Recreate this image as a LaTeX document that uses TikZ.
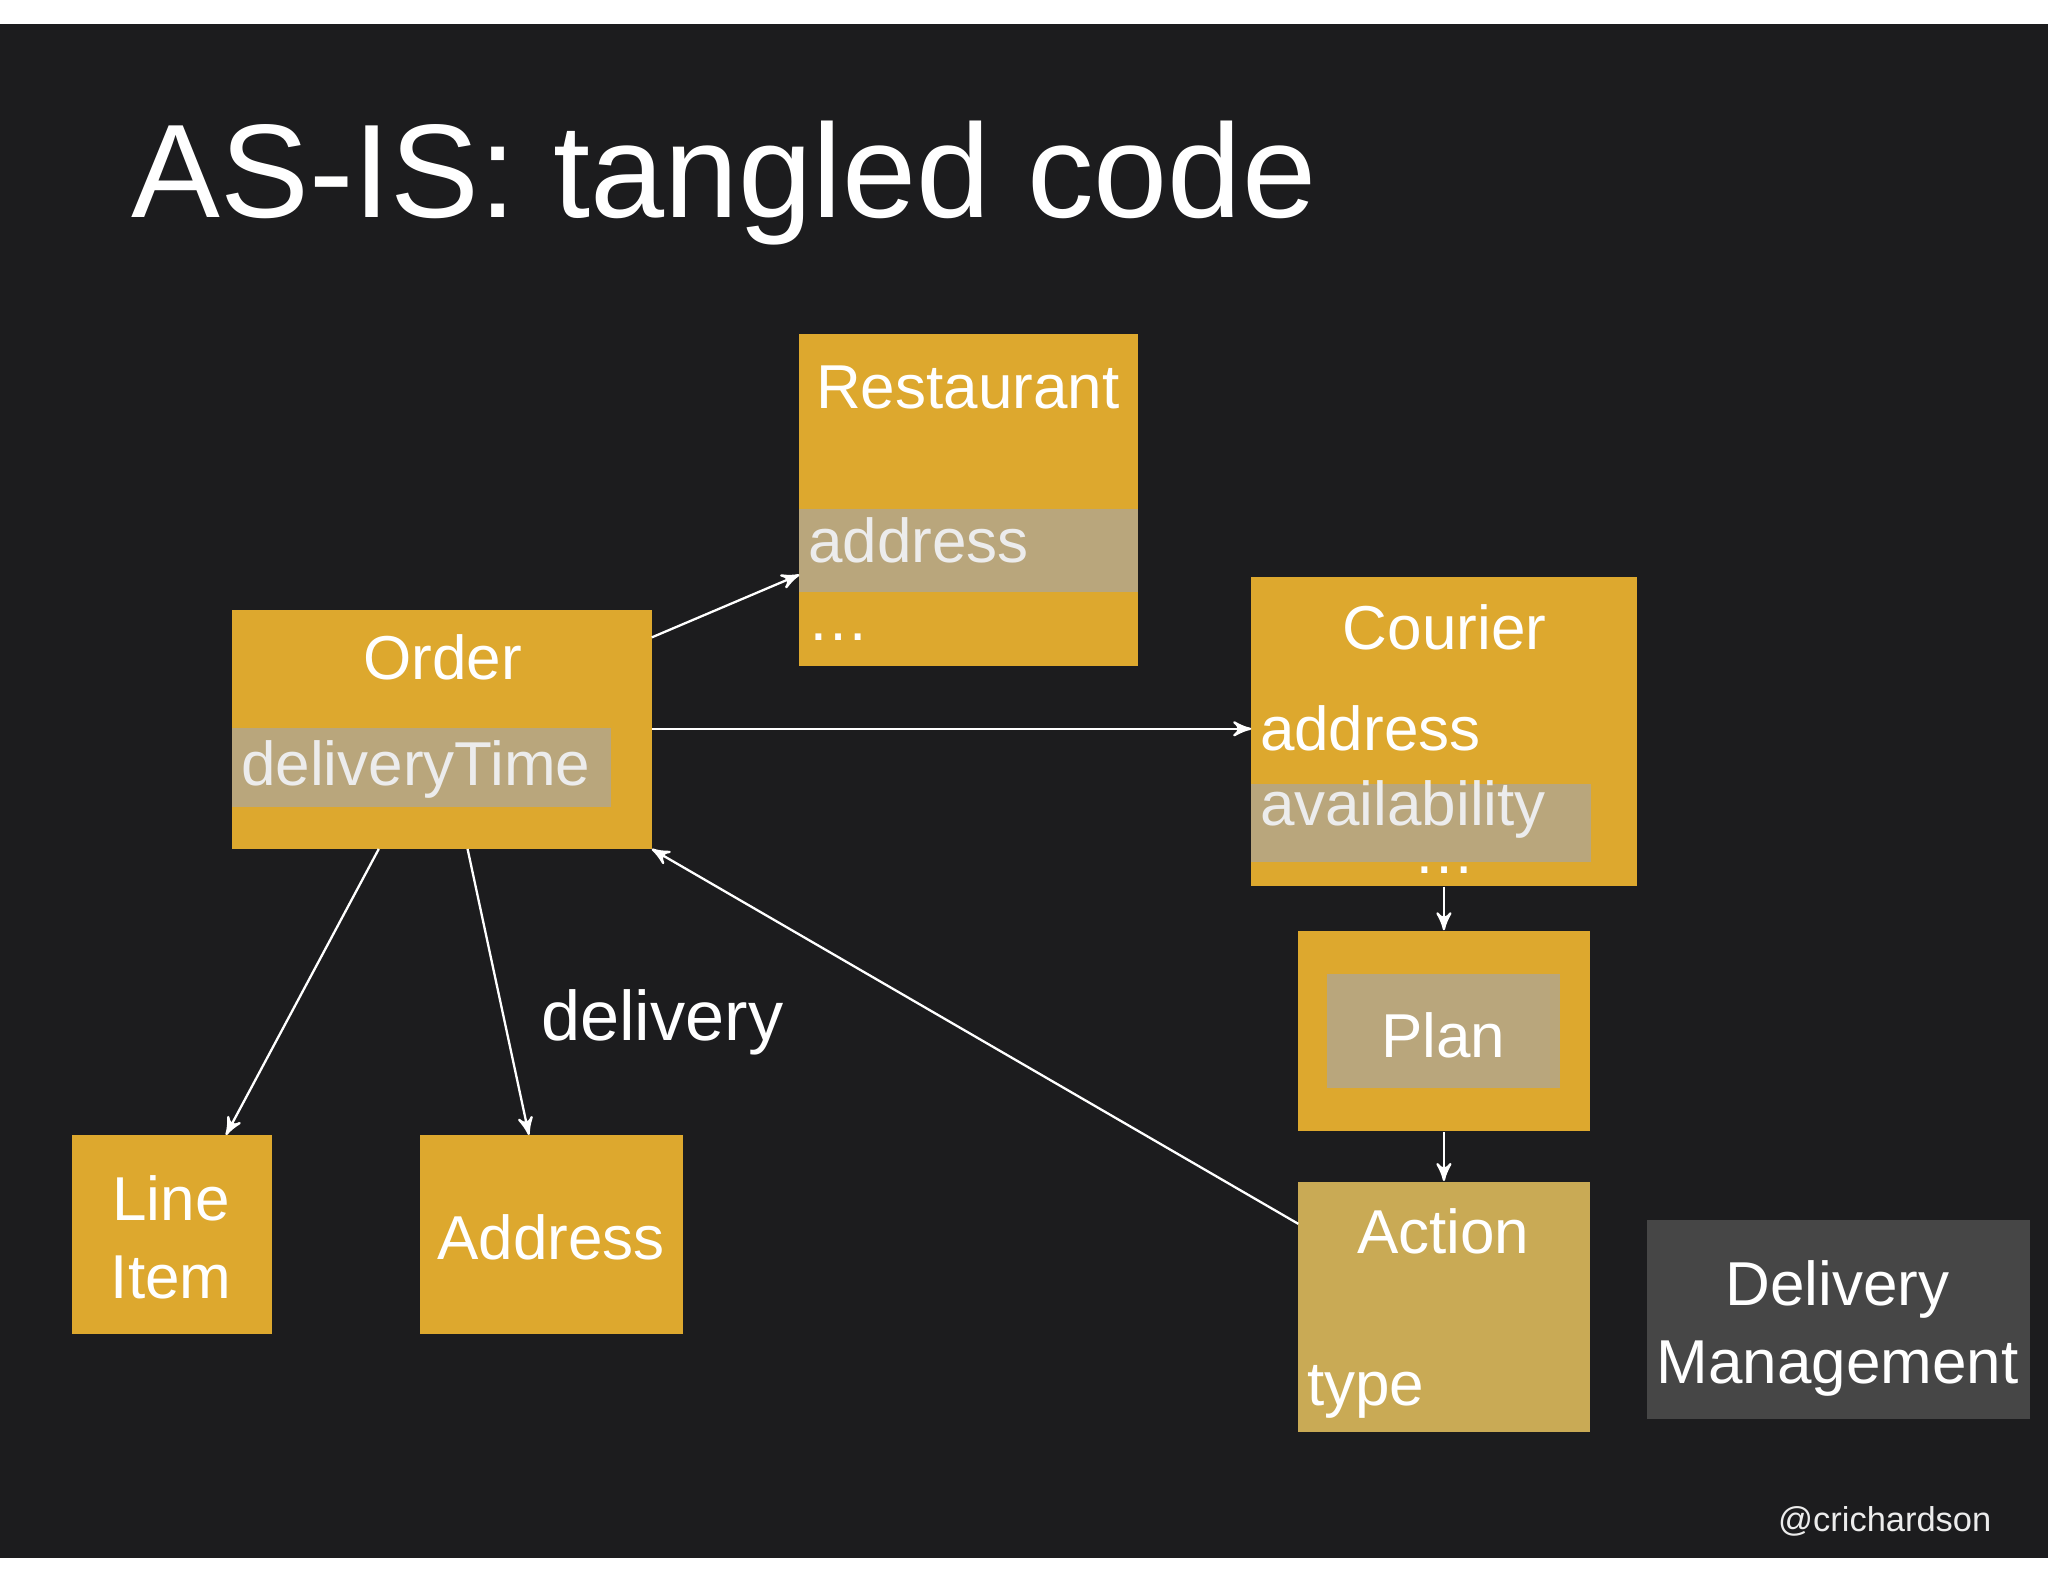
\documentclass[tikz,border=0pt]{standalone}
\usepackage{fontspec}
\setmainfont{Liberation Sans}
\usetikzlibrary{arrows}
\definecolor{gold}{HTML}{DDA82E}
\definecolor{pale}{HTML}{C9AA55}
\definecolor{band}{HTML}{B9A67C}
\definecolor{slide}{HTML}{1C1C1E}
\tikzset{
    box/.style={rectangle, fill=gold, inner sep=0pt},
    strip/.style={rectangle, fill=band, inner sep=0pt},
    lbl/.style={text=white, font=\fontsize{13.5}{17}\selectfont, inner sep=0pt},
    fld/.style={text=white!85!gray, font=\fontsize{13.5}{17}\selectfont, inner sep=0pt, anchor=west},
    link/.style={draw=white, line width=0.5pt, ->, >=stealth'}
}
\begin{document}
\begin{tikzpicture}
  [
    x = 0.01cm,
    y = -0.01cm,
  ]
  \useasboundingbox (0,0) rectangle (1568,1211);
  \fill[white] (0,0) rectangle (1568,1211);
  \fill[slide] (0,18) rectangle (1568,1193);
  \node[text=white, font=\fontsize{29}{34}\selectfont, anchor=west, inner sep=0pt] (title) at (100,140) {AS-IS: tangled code};
  % boxes
  \node[box, minimum width=2.59cm, minimum height=2.54cm] (restaurant) at (741.5,383) {};
  \node[strip, minimum width=2.59cm, minimum height=0.63cm] (restband) at (741.5,421.5) {};
  \node[box, minimum width=2.95cm, minimum height=2.36cm] (courier) at (1105.5,560) {};
  \node[strip, minimum width=2.60cm, minimum height=0.60cm] (courband) at (1088,630) {};
  \node[box, minimum width=3.21cm, minimum height=1.83cm] (order) at (338.5,558.5) {};
  \node[strip, minimum width=2.90cm, minimum height=0.61cm] (orderband) at (323,587.5) {};
  \node[box, minimum width=2.23cm, minimum height=1.53cm] (plan) at (1105.5,789.5) {};
  \node[strip, minimum width=1.78cm, minimum height=0.87cm] (planband) at (1105,789.5) {};
  \node[box, fill=pale, minimum width=2.23cm, minimum height=1.91cm] (action) at (1105.5,1000.5) {};
  \node[box, minimum width=1.53cm, minimum height=1.52cm] (lineitem) at (131.5,945) {};
  \node[box, minimum width=2.01cm, minimum height=1.52cm] (address) at (422.5,945) {};
  \node[box, fill=gray!55!black, minimum width=2.93cm, minimum height=1.52cm] (delivery) at (1407.5,1010) {};
  % texts
  \node[lbl] at (741,297) {Restaurant};
  \node[fld] at (618,414) {address};
  \node[lbl] at (642,488) {\dots};
  \node[lbl] at (1106,480) {Courier};
  \node[lbl, anchor=west] at (964,558) {address};
  \node[fld] at (964,620) {availability};
  \node[lbl] at (1106,666) {\dots};
  \node[lbl] at (339,503) {Order};
  \node[fld] at (184,589) {deliveryTime};
  \node[lbl] at (1105,793) {Plan};
  \node[lbl] at (1105,943) {Action};
  \node[lbl, anchor=west] at (1000,1066) {type};
  \node[lbl, align=center] at (131,947) {Line\\Item};
  \node[lbl, align=center] at (1407,1017) {Delivery\\Management};
  \node[lbl] at (422,947) {Address};
  \node[lbl, font=\fontsize{15.3}{18}\selectfont] (deliverylbl) at (507,783) {delivery};
  \node[text=white!85!gray, font=\fontsize{7.5}{9}\selectfont, inner sep=0pt] (handle) at (1443,1165) {@crichardson};
  % connectors
  \coordinate (o1) at (499,488);
  \coordinate (o2) at (499,558);
  \coordinate (o3) at (499,650);
  \coordinate (o4) at (290,650);
  \coordinate (o5) at (358,650);
  \coordinate (r1) at (612,440);
  \coordinate (c1) at (958,558);
  \coordinate (a1) at (994,937);
  \draw[link] (o1) -- (r1);
  \draw[link] (o2) -- (c1);
  \draw[link] (a1) -- (o3);
  \draw[link] (courier.south) -- (plan.north);
  \draw[link] (plan.south) -- (action.north);
  \draw[link] (o4) -- (173,869);
  \draw[link] (o5) -- (405,869);
\end{tikzpicture}
\end{document}
